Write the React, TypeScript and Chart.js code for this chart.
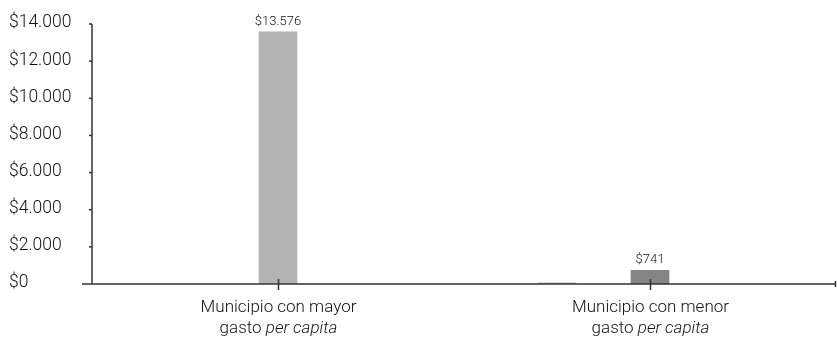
import React, { useEffect, useRef } from "react";
import { Chart, registerables } from "chart.js";

Chart.register(...registerables);

const categoryLine1 = ["Municipio con mayor", "Municipio con menor"];
const categoryLine2Plain = ["gasto ", "gasto "];
const categoryLine2Italic = ["per capita", "per capita"];
const categoryPositions = [0.5, 1.5];

const lightPositions = [0.5, 1.25];
const lightValues = [13576, 60];
const lightShowLabel = [true, false];

const darkPositions = [1.5];
const darkValues = [741];
const darkShowLabel = [true];

const yTicks = [0, 2000, 4000, 6000, 8000, 10000, 12000, 14000];

const FONT = "Roboto";
const fmt = (v: number) => "$" + String(Math.round(v)).replace(/\B(?=(\d{3})+(?!\d))/g, ".");

const axesPlugin = {
  id: "customAxes",
  afterDraw(chart: any) {
    const ctx = chart.ctx;
    const xs = chart.scales.x;
    const ys = chart.scales.y;
    const area = chart.chartArea;
    ctx.save();
    ctx.strokeStyle = "#333";
    ctx.lineWidth = 1.5;
    // y axis
    ctx.beginPath();
    ctx.moveTo(area.left, ys.getPixelForValue(14000));
    ctx.lineTo(area.left, ys.getPixelForValue(0));
    ctx.stroke();
    // x axis
    const y0 = ys.getPixelForValue(0);
    ctx.beginPath();
    ctx.moveTo(area.left - 10, y0);
    ctx.lineTo(area.right - 0.5, y0);
    ctx.stroke();
    // right end tick
    ctx.beginPath();
    ctx.moveTo(area.right - 0.5, y0 - 3);
    ctx.lineTo(area.right - 0.5, y0 + 3);
    ctx.stroke();
    // y ticks and labels
    ctx.fillStyle = "#111";
    ctx.font = `300 17.5px ${FONT}`;
    ctx.textAlign = "left";
    ctx.textBaseline = "middle";
    yTicks.forEach((t) => {
      const py = ys.getPixelForValue(t);
      if (t !== 0) {
        ctx.beginPath();
        ctx.moveTo(area.left - 3, py);
        ctx.lineTo(area.left, py);
        ctx.stroke();
      }
      ctx.fillText(fmt(t), 9, py - 1);
    });
    // category ticks and labels
    categoryPositions.forEach((c, i) => {
      const px = Math.round(xs.getPixelForValue(c)) + 0.5;
      ctx.beginPath();
      ctx.moveTo(px, y0 - 5);
      ctx.lineTo(px, y0 + 6);
      ctx.stroke();
      ctx.textAlign = "center";
      ctx.textBaseline = "middle";
      const plainFont = `300 17px ${FONT}`;
      const italFont = `italic 300 17px ${FONT}`;
      ctx.font = plainFont;
      ctx.fillText(categoryLine1[i], px, y0 + 24);
      const w1 = ctx.measureText(categoryLine2Plain[i]).width;
      ctx.font = italFont;
      const w2 = ctx.measureText(categoryLine2Italic[i]).width;
      const start = px - (w1 + w2) / 2;
      ctx.textAlign = "left";
      ctx.font = plainFont;
      ctx.fillText(categoryLine2Plain[i], start, y0 + 45);
      ctx.font = italFont;
      ctx.fillText(categoryLine2Italic[i], start + w1, y0 + 45);
    });
    // value labels
    ctx.font = `300 13px ${FONT}`;
    ctx.textAlign = "center";
    ctx.textBaseline = "bottom";
    const flags = [lightShowLabel, darkShowLabel];
    const vals = [lightValues, darkValues];
    [0, 1].forEach((di) => {
      const meta = chart.getDatasetMeta(di);
      meta.data.forEach((el: any, j: number) => {
        if (!flags[di][j]) return;
        ctx.fillText(fmt(vals[di][j]), el.x, el.y - 4);
      });
    });
    ctx.restore();
  },
};

export default function App() {
  const ref = useRef<HTMLCanvasElement>(null);
  useEffect(() => {
    document.body.style.margin = "0";
    const chart = new Chart(ref.current!, {
      type: "bar",
      data: {
        datasets: [
          {
            label: "light",
            data: lightPositions.map((x, i) => ({ x, y: lightValues[i] })),
            backgroundColor: "#b3b3b3",
            barThickness: 38,
          },
          {
            label: "dark",
            data: darkPositions.map((x, i) => ({ x, y: darkValues[i] })),
            backgroundColor: "#858585",
            barThickness: 38,
          },
        ],
      },
      options: {
        animation: false,
        responsive: false,
        maintainAspectRatio: false,
        datasets: { bar: { grouped: false } } as any,
        layout: { padding: { left: 92, right: 1, top: 24, bottom: 61 } },
        plugins: { legend: { display: false }, tooltip: { enabled: false } },
        scales: {
          x: { type: "linear", min: 0, max: 2, display: false, offset: false },
          y: { min: 0, max: 14000, display: false },
        },
      },
      plugins: [axesPlugin],
    });
    return () => chart.destroy();
  }, []);
  return (
    <div style={{ width: 837, height: 345, position: "relative" }}>
      <canvas ref={ref} width={837} height={345} />
    </div>
  );
}
